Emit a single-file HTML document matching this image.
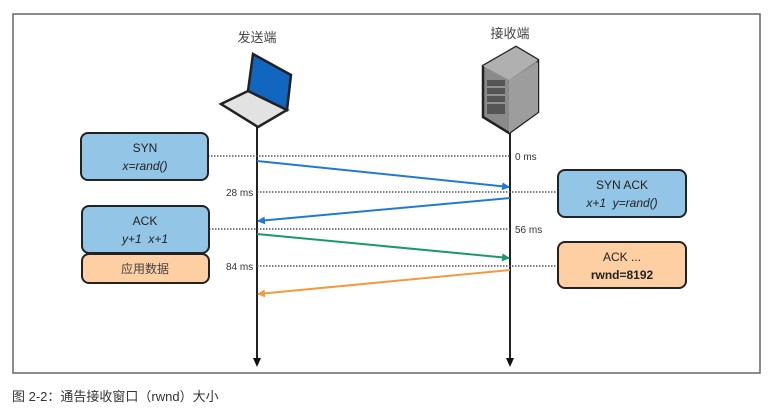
<!DOCTYPE html>
<html><head><meta charset="utf-8"><style>
body{margin:0;background:#fff;width:772px;height:414px;overflow:hidden}
text{font-family:"Liberation Sans","Noto Sans CJK SC",sans-serif}
</style></head><body>
<svg width="772" height="414" viewBox="0 0 772 414" xmlns="http://www.w3.org/2000/svg">
<defs>
<marker id="ab" markerWidth="8" markerHeight="8" refX="7" refY="4" orient="auto" markerUnits="userSpaceOnUse"><path d="M0,0 L8,4 L0,8 Z" fill="#1f7ad0"/></marker>
<marker id="ag" markerWidth="8" markerHeight="8" refX="7" refY="4" orient="auto" markerUnits="userSpaceOnUse"><path d="M0,0 L8,4 L0,8 Z" fill="#1a9a6a"/></marker>
<marker id="ao" markerWidth="8" markerHeight="8" refX="7" refY="4" orient="auto" markerUnits="userSpaceOnUse"><path d="M0,0 L8,4 L0,8 Z" fill="#f39a3e"/></marker>
</defs>
<rect x="13" y="14" width="747" height="359" fill="#fff" stroke="#666" stroke-width="1.5"/>
<text x="257" y="42" font-size="13" text-anchor="middle" fill="#444">发送端</text>
<text x="510" y="38" font-size="13" text-anchor="middle" fill="#444">接收端</text>
<!-- laptop -->
<polygon points="253,54 291,75 287,110 248,91" fill="#1166c0" stroke="#222" stroke-width="2.5"/>
<polygon points="248,91 287,110 258,127 221,104" fill="#e2e2e2" stroke="#222" stroke-width="2.5"/>
<!-- server -->
<polygon points="483,66 516,47 538,60 538,112 509,133 483,117" fill="#8a8a8a" stroke="#222" stroke-width="2.5"/>
<polygon points="509,80 538,62 538,112 509,133" fill="#9d9d9d"/>
<polygon points="483,66 516,47 538,60 509,80" fill="#b0b0b0"/>
<rect x="487" y="80" width="18" height="34" fill="#555"/>
<line x1="487" y1="87" x2="505" y2="87" stroke="#ccc"/><line x1="487" y1="95" x2="505" y2="95" stroke="#ccc"/><line x1="487" y1="103" x2="505" y2="103" stroke="#ccc"/>
<!-- lifelines -->
<line x1="257" y1="127" x2="257" y2="360" stroke="#222" stroke-width="2"/>
<path d="M253,358 L261,358 L257,367 Z" fill="#111"/>
<line x1="510" y1="133" x2="510" y2="360" stroke="#222" stroke-width="2"/>
<path d="M506,358 L514,358 L510,367 Z" fill="#111"/>
<!-- dotted -->
<g stroke="#555" stroke-width="1.5" stroke-dasharray="1.5,1.5">
<line x1="208" y1="156" x2="510" y2="156"/>
<line x1="257" y1="192" x2="558" y2="192"/>
<line x1="209" y1="229" x2="510" y2="229"/>
<line x1="257" y1="266" x2="558" y2="266"/>
</g>
<g font-size="10" fill="#333">
<text x="515" y="160">0 ms</text>
<text x="226" y="196">28 ms</text>
<text x="515" y="233">56 ms</text>
<text x="226" y="270">84 ms</text>
</g>
<!-- arrows -->
<line x1="257" y1="161" x2="509" y2="187" stroke="#1f7ad0" stroke-width="2" marker-end="url(#ab)"/>
<line x1="510" y1="198" x2="258" y2="221" stroke="#1f7ad0" stroke-width="2" marker-end="url(#ab)"/>
<line x1="257" y1="234" x2="509" y2="258" stroke="#1a9a6a" stroke-width="2" marker-end="url(#ag)"/>
<line x1="510" y1="270" x2="258" y2="294" stroke="#f39a3e" stroke-width="2" marker-end="url(#ao)"/>
<!-- boxes -->
<g stroke="#222" stroke-width="2">
<rect x="81" y="133" width="127" height="47" rx="7" fill="#93c6e6"/>
<rect x="558" y="170" width="128" height="47" rx="7" fill="#93c6e6"/>
<rect x="82" y="206" width="127" height="47" rx="7" fill="#93c6e6"/>
<rect x="82" y="254" width="127" height="29" rx="7" fill="#fdcfa3"/>
<rect x="558" y="242" width="128" height="46" rx="7" fill="#fdcfa3"/>
</g>
<g font-size="12" text-anchor="middle" fill="#222">
<text x="145" y="152">SYN</text>
<text x="145" y="170" font-style="italic">x=rand()</text>
<text x="622" y="189">SYN ACK</text>
<text x="622" y="207" font-style="italic">x+1 &#160;y=rand()</text>
<text x="145" y="225">ACK</text>
<text x="145" y="243" font-style="italic">y+1 &#160;x+1</text>
<text x="145" y="273" fill="#444">应用数据</text>
<text x="622" y="261">ACK ...</text>
<text x="622" y="279" font-weight="bold">rwnd=8192</text>
</g>
<text x="12" y="401" font-size="13" fill="#333">图 2-2：通告接收窗口（rwnd）大小</text>
</svg>
</body></html>
